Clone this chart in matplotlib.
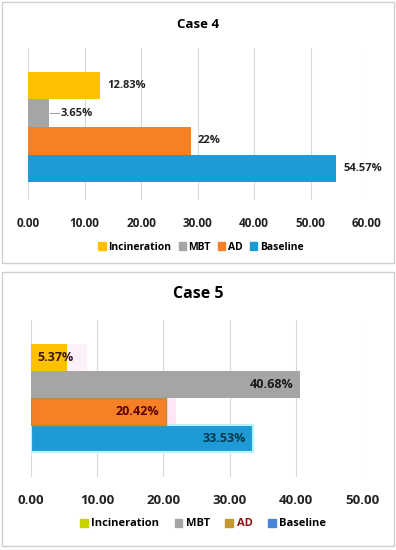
import matplotlib.pyplot as plt
from matplotlib.patches import Rectangle, Patch

plt.rcParams['font.family'] = ['Open Sans', 'DejaVu Sans']
plt.rcParams['font.weight'] = 'bold'

categories = ["Baseline", "AD", "MBT", "Incineration"]

# case 4: bar lengths and the printed labels
case4_values = [54.57, 28.8, 3.65, 12.83]
case4_labels = ["54.57%", "22%", "3.65%", "12.83%"]
case4_colors = ["#1e9bd7", "#f58025", "#a5a5a5", "#ffc000"]

# case 5
case5_values = [33.53, 20.42, 40.68, 5.37]
case5_labels = ["33.53%", "20.42%", "40.68%", "5.37%"]
case5_colors = ["#1e9bd7", "#f58025", "#a5a5a5", "#ffc000"]
case5_legend_colors = ["#4a86d8", "#c49a30", "#a5a5a5", "#c8d400"]
case5_label_colors = ["#003848", "#5a0000", "#1a1a1a", "#3a1a00"]

fig = plt.figure(figsize=(3.96, 5.5), dpi=100)
W, H = 396, 550


def fx(px):
    return px / W


def fy(py):
    return 1 - py / H


# panel frames
for top, bot in [(2, 263), (272, 546)]:
    fig.patches.append(Rectangle((fx(2), fy(bot)), fx(392), (bot - top) / H,
                                 transform=fig.transFigure, fill=False,
                                 edgecolor="#d0d0d0", linewidth=1))

pos = list(range(len(categories)))


def style(ax, xmax, size):
    ax.set_xlim(0, xmax)
    ax.set_xticks(range(0, xmax + 1, 10))
    ax.set_xticklabels(["%.2f" % t for t in range(0, xmax + 1, 10)])
    ax.set_yticks([])
    for s in ax.spines.values():
        s.set_visible(False)
    ax.grid(axis="x", color="#d9d9d9", linewidth=0.8)
    ax.set_axisbelow(True)
    ax.tick_params(axis="x", length=0, labelsize=size, pad=12, colors="#222222")


# ---- Case 4
ax1 = fig.add_axes([fx(28), fy(200), fx(339), (200 - 48) / H])
ax1.barh(pos, case4_values, height=1.0, color=case4_colors)
ax1.set_ylim(-1.15, 4.37)
style(ax1, 60, 8.5)
for p, v, lab in zip(pos, case4_values, case4_labels):
    off = 2.2 if lab == "3.65%" else 1.2
    ax1.text(v + off, p, lab, va="center", ha="left", fontsize=8, color="#222222")
ax1.plot([3.65 + 0.2, 3.65 + 1.9], [2, 2], color="#a5a5a5", linewidth=0.8)
fig.text(0.5, fy(25), "Case 4", ha="center", va="center", fontsize=9.5)
h1 = [Patch(color=c) for c in case4_colors[::-1]]
fig.legend(h1, categories[::-1], loc="center", bbox_to_anchor=(fx(201), fy(247)),
           ncol=4, frameon=False, fontsize=7.5, handlelength=0.7, handleheight=0.7,
           handletextpad=0.25, columnspacing=0.7)

# ---- Case 5
ax2 = fig.add_axes([fx(31), fy(477), fx(331), (477 - 320) / H])
ax2.barh(1, 21.9, height=1.0, color="#fde6f5", zorder=1)
ax2.barh(3, 8.5, height=1.0, color="#fdf0f8", zorder=1)
ax2.barh(pos, case5_values, height=1.0, color=case5_colors, zorder=2,
         edgecolor=["#b4f6fc", "#b09030", "#a5a5a5", "#e8b800"], linewidth=[1.5, 1, 0, 0])
ax2.set_ylim(-1.43, 4.39)
style(ax2, 50, 9.5)
for p, v, lab, c in zip(pos, case5_values, case5_labels, case5_label_colors):
    if p == 3:
        ax2.text(1.0, p, lab, va="center", ha="left", fontsize=9, color=c, zorder=3)
    else:
        ax2.text(v - 1.1, p, lab, va="center", ha="right", fontsize=9, color=c, zorder=3)
fig.text(0.5, fy(294), "Case 5", ha="center", va="center", fontsize=11.5)
h2 = [Patch(color=c) for c in case5_legend_colors[::-1]]
leg2 = fig.legend(h2, categories[::-1], loc="center", bbox_to_anchor=(fx(203), fy(524)),
                  ncol=4, frameon=False, fontsize=8, handlelength=0.7, handleheight=0.7,
                  handletextpad=0.3, columnspacing=1.4)
leg2.get_texts()[2].set_color("#8b1010")

fig.savefig("out.png", dpi=100)
